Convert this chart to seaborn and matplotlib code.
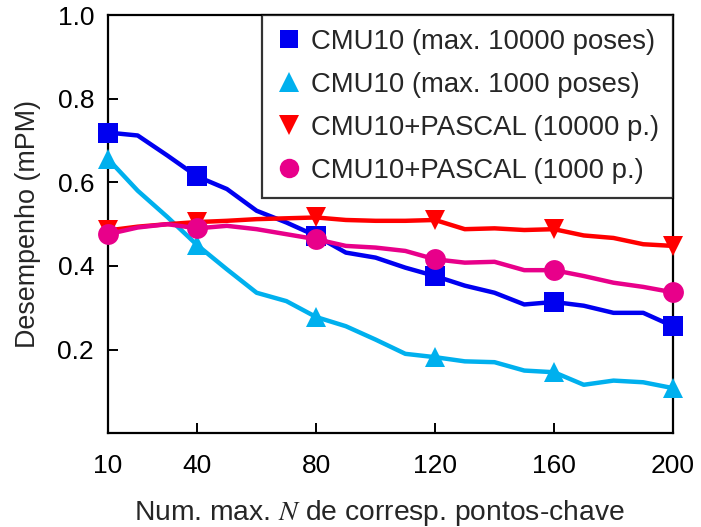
import matplotlib
matplotlib.use("Agg")
import matplotlib.pyplot as plt
import seaborn as sns
import pandas as pd
from matplotlib.lines import Line2D

x_vals = [10, 20, 30, 40, 50, 60, 70, 80, 90, 100, 110, 120, 130, 140, 150, 160, 170, 180, 190, 200]

cmu10_10000 = [0.719, 0.712, 0.664, 0.614, 0.584, 0.532, 0.504, 0.472, 0.432, 0.420,
               0.396, 0.376, 0.353, 0.336, 0.308, 0.314, 0.305, 0.288, 0.288, 0.256]
cmu10_1000 = [0.656, 0.580, 0.517, 0.450, 0.392, 0.336, 0.316, 0.278, 0.256, 0.224,
              0.190, 0.182, 0.172, 0.170, 0.150, 0.146, 0.116, 0.126, 0.122, 0.108]
pascal_10000 = [0.485, 0.494, 0.500, 0.505, 0.508, 0.512, 0.514, 0.516, 0.510, 0.508,
                0.508, 0.510, 0.488, 0.490, 0.486, 0.488, 0.473, 0.467, 0.452, 0.448]
pascal_1000 = [0.476, 0.492, 0.500, 0.490, 0.496, 0.488, 0.476, 0.464, 0.448, 0.444,
               0.436, 0.416, 0.408, 0.410, 0.390, 0.390, 0.376, 0.360, 0.350, 0.337]

series_names = ["CMU10 (max. 10000 poses)", "CMU10 (max. 1000 poses)",
                "CMU10+PASCAL (10000 p.)", "CMU10+PASCAL (1000 p.)"]
series_values = [cmu10_10000, cmu10_1000, pascal_10000, pascal_1000]
colors = ["#0000F0", "#00B0EE", "#FF0000", "#E8008A"]
markers = ["s", "^", "v", "o"]
marker_sizes = [14, 15, 15, 15]

x_ticks = [10, 40, 80, 120, 160, 200]
y_ticks = [0.2, 0.4, 0.6, 0.8, 1.0]
marker_x = [10, 40, 80, 120, 160, 200]

sns.set_style("white")
plt.rcParams['font.family'] = ['Liberation Sans', 'DejaVu Sans']
plt.rcParams['mathtext.fontset'] = 'stix'

fig = plt.figure(figsize=(7.01, 5.27), dpi=100)
ax = fig.add_axes([0.154, 0.1778, 0.806, 0.7937])

markevery = [x_vals.index(m) for m in marker_x]
handles = []
for name, vals, c, m, ms in zip(series_names, series_values, colors, markers, marker_sizes):
    df = pd.DataFrame({"x": x_vals, "y": vals})
    sns.lineplot(data=df, x="x", y="y", ax=ax, color=c, linewidth=3.2,
                 marker=m, markersize=ms, markevery=markevery,
                 markeredgewidth=0, clip_on=False, zorder=3, legend=False)
    handles.append(Line2D([], [], linestyle="none", marker=m, color=c,
                          markersize=ms - 1, markeredgewidth=0, label=name))

ax.set_xlim(10, 200)
ax.set_ylim(0, 1.0)
ax.set_xticks(x_ticks)
ax.set_xticklabels([str(t) for t in x_ticks])
ax.set_yticks(y_ticks)
ax.set_yticklabels([f"{t:.1f}" for t in y_ticks])

for sp in ax.spines.values():
    sp.set_visible(True)
    sp.set_color("black")
    sp.set_linewidth(1.6)

ax.tick_params(axis="x", direction="in", length=7, width=1.4, pad=15,
               labelsize=19, colors="black", top=False, bottom=True)
ax.tick_params(axis="y", direction="in", length=7, width=1.4, pad=10,
               labelsize=19, colors="black", left=True, right=False)

ax.set_xlabel(r"Num. max. $N$ de corresp. pontos-chave", fontsize=20.3, labelpad=12)
ax.xaxis.set_label_coords(0.481, -0.155)
ax.set_ylabel("Desempenho (mPM)", fontsize=19.4, labelpad=12)

leg = ax.legend(handles=handles, loc="upper right", fontsize=19.8, frameon=True,
                fancybox=False, borderaxespad=0, handletextpad=0.29,
                borderpad=0.5, labelspacing=0.62, handlelength=1.0)
leg.get_frame().set_edgecolor("black")
leg.get_frame().set_linewidth(1.6)
leg.set_zorder(5)

fig.savefig("out.png", dpi=100)
